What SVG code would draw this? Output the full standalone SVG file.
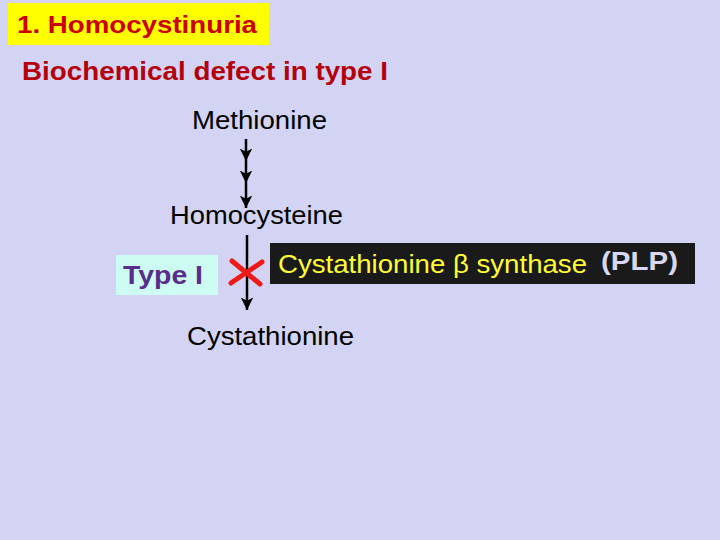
<svg xmlns="http://www.w3.org/2000/svg" width="720" height="540" viewBox="0 0 720 540">
<defs>
<style>
.t{font-family:"Liberation Sans",Arial,sans-serif}
.lbl{font-size:25px;fill:#000}
.ar{stroke:#000;stroke-width:2.5;fill:none}
</style>
<marker id="ah" viewBox="0 0 12 12" refX="12" refY="6" markerWidth="5" markerHeight="5" markerUnits="strokeWidth" orient="auto">
<path d="M0,0 L12,6 L0,12 L3,6 Z" fill="#000"/>
</marker>
</defs>
<rect width="720" height="540" fill="#d3d4f3"/>
<g id="title">
<rect x="8" y="3" width="261" height="42" fill="#ffff00"/>
<text class="t" x="17" y="33" font-size="24" font-weight="bold" fill="#cc0000" textLength="240" lengthAdjust="spacingAndGlyphs">1. Homocystinuria</text>
</g>
<g id="subtitle">
<text class="t" x="22" y="80" font-size="25" font-weight="bold" fill="#b4000c" textLength="366" lengthAdjust="spacingAndGlyphs">Biochemical defect in type I</text>
</g>
<g id="methionine">
<text class="t lbl" x="192" y="129" textLength="135" lengthAdjust="spacingAndGlyphs">Methionine</text>
</g>
<g id="homocysteine">
<text class="t lbl" x="170" y="224" textLength="173" lengthAdjust="spacingAndGlyphs">Homocysteine</text>
</g>
<g id="cystathionine">
<text class="t lbl" x="187" y="345" textLength="167" lengthAdjust="spacingAndGlyphs">Cystathionine</text>
</g>
<g id="type1">
<rect x="116" y="255" width="102" height="40" fill="#ccfcf2"/>
<text class="t" x="123" y="284" font-size="25" font-weight="bold" fill="#5a2d8c" textLength="80" lengthAdjust="spacingAndGlyphs">Type I</text>
</g>
<g id="enzyme">
<rect x="270" y="243" width="425" height="41" fill="#1a1a1a"/>
<text class="t" x="278" y="273" font-size="25" fill="#ffff33" textLength="309" lengthAdjust="spacingAndGlyphs">Cystathionine β synthase</text>
<text class="t" x="601" y="270" font-size="26" font-weight="bold" fill="#d8d8f2" textLength="77" lengthAdjust="spacingAndGlyphs">(PLP)</text>
</g>
<g id="connectors">
<line class="ar" x1="246" y1="139" x2="246" y2="161" marker-end="url(#ah)"/>
<line class="ar" x1="246" y1="161" x2="246" y2="183" marker-end="url(#ah)"/>
<line class="ar" x1="246" y1="183" x2="246" y2="208" marker-end="url(#ah)"/>
<line class="ar" x1="247" y1="235" x2="247" y2="310" marker-end="url(#ah)"/>
</g>
<g id="block" stroke="#ee1a1a" stroke-width="5" stroke-linecap="round">
<line x1="232" y1="261" x2="260" y2="284"/>
<line x1="262" y1="262" x2="231" y2="283"/>
</g>
</svg>
